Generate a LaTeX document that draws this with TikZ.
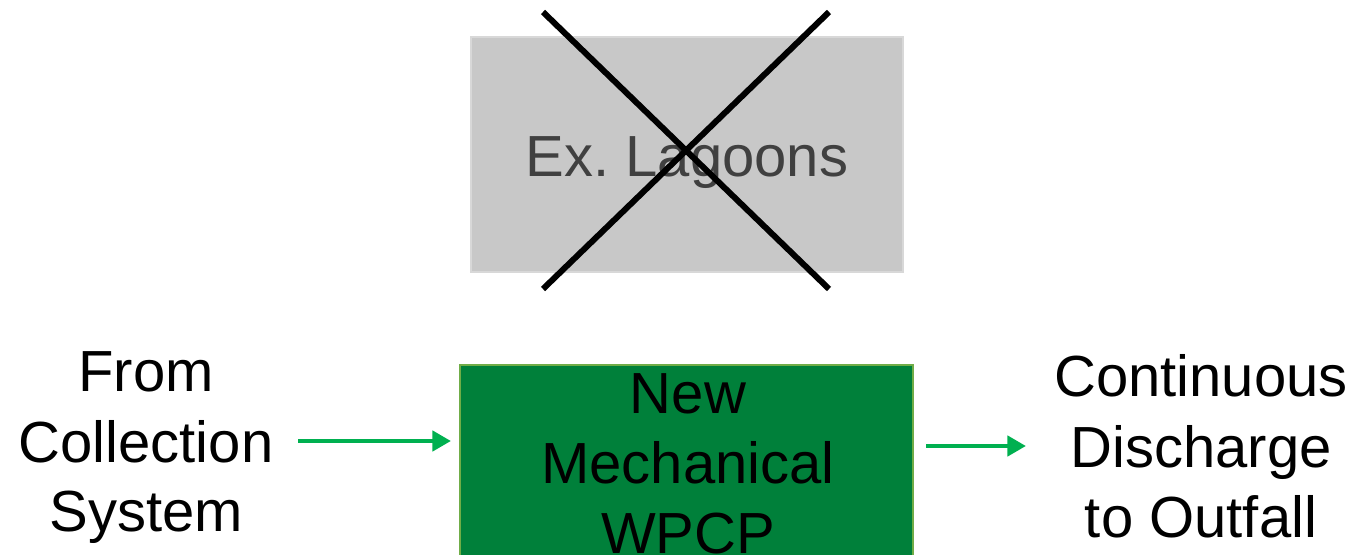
\documentclass[tikz,border=0pt]{standalone}
\usepackage{fontspec}
\setmainfont{Liberation Sans}
\usetikzlibrary{arrows.meta}
\definecolor{lagoongrey}{HTML}{C8C8C8}
\definecolor{lagoonedge}{HTML}{D8D8D8}
\definecolor{lagoontext}{HTML}{404040}
\definecolor{plantgreen}{HTML}{00803A}
\definecolor{plantedge}{HTML}{70AD47}
\definecolor{flowgreen}{HTML}{00B050}
\frenchspacing
\tikzset{
  bigtext/.style={font=\fontsize{43.5}{52.5}\selectfont, inner sep=0pt, anchor=base},
  flow/.style={draw=flowgreen, line width=3.6pt, -{Triangle[length=14pt,width=15pt]}},
  crossline/.style={draw=black, line width=4.5pt}
}
\begin{document}
\begin{tikzpicture}[x=0.75pt, y=-0.75pt]
  \useasboundingbox (0,0) rectangle (1358,555);
  \clip (0,0) rectangle (1358,555);

  % existing lagoons (to be removed)
  \node[fill=lagoongrey, draw=lagoonedge, line width=1pt, minimum width=432*0.75pt,
        minimum height=235*0.75pt, inner sep=0pt] (lagoon) at (687,154.5) {};
  \node[bigtext, font=\fontsize{43.5}{52.5}\selectfont\color{lagoontext}] (lagoonlbl) at (687,177) {Ex. Lagoons};
  \coordinate (xa) at (543,12);
  \coordinate (xb) at (829,289);
  \coordinate (xc) at (829,12);
  \coordinate (xd) at (543,289);
  \draw[crossline] (xa) -- (xb);
  \draw[crossline] (xc) -- (xd);

  % new plant
  \node[fill=plantgreen, draw=plantedge, line width=1.5pt, minimum width=453*0.75pt,
        minimum height=260*0.75pt, inner sep=0pt] (plant) at (686.5,495) {};
  \node[bigtext] (plant1) at (688,413) {New};
  \node[bigtext] (plant2) at (688,483) {Mechanical};
  \node[bigtext] (plant3) at (688,553) {WPCP};

  % inflow
  \node[bigtext] (src1) at (146,392) {From};
  \node[bigtext] (src2) at (146,462) {Collection};
  \node[bigtext] (src3) at (146,531) {System};

  % outflow
  \node[bigtext] (dst1) at (1201,397) {Continuous};
  \node[bigtext] (dst2) at (1201,467) {Discharge};
  \node[bigtext] (dst3) at (1201,537) {to Outfall};

  \coordinate (inS) at (298,441);
  \coordinate (inE) at (451,441);
  \coordinate (outS) at (926,446);
  \coordinate (outE) at (1026,446);
  \draw[flow] (inS) -- (inE);
  \draw[flow] (outS) -- (outE);
\end{tikzpicture}
\end{document}
